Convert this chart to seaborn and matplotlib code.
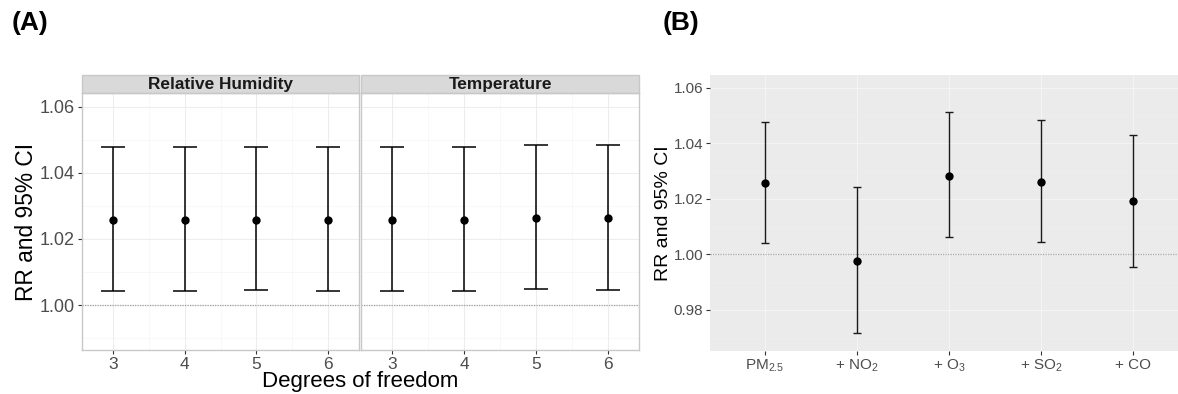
import numpy as np
import pandas as pd
import matplotlib
matplotlib.use("Agg")
import matplotlib.pyplot as plt
from matplotlib.patches import Rectangle
import seaborn as sns

# ---------------- data ----------------
df_values = [3, 4, 5, 6]
rh_rr = [1.0256, 1.0256, 1.0258, 1.0257]
rh_lo = [1.0042, 1.0042, 1.0044, 1.0043]
rh_hi = [1.0477, 1.0477, 1.0479, 1.0478]
temp_rr = [1.0257, 1.0257, 1.0263, 1.0262]
temp_lo = [1.0041, 1.0042, 1.0047, 1.0046]
temp_hi = [1.0478, 1.0478, 1.0484, 1.0483]
facet_titles = ["Relative Humidity", "Temperature"]

models = ["PM$_{2.5}$", "+ NO$_2$", "+ O$_3$", "+ SO$_2$", "+ CO"]
model_rr = [1.0256, 0.9976, 1.0284, 1.0261, 1.0191]
model_lo = [1.0041, 0.9718, 1.0061, 1.0044, 0.9955]
model_hi = [1.0477, 1.0241, 1.0512, 1.0484, 1.0431]

# ---------------- style ----------------
sns.set_theme(style="white")
plt.rcParams["font.family"] = ["Liberation Sans", "DejaVu Sans"]
plt.rcParams["mathtext.default"] = "regular"

W, H = 1178, 394
fig = plt.figure(figsize=(W / 100, H / 100), dpi=100)


def px_axes(x0, x1, y0, y1):
    return fig.add_axes([x0 / W, 1 - y1 / H, (x1 - x0) / W, (y1 - y0) / H])


tick_gray = "#4D4D4D"

# ---------------- panel A ----------------
facet_data = [
    pd.DataFrame({"df": df_values, "rr": rh_rr, "lo": rh_lo, "hi": rh_hi}),
    pd.DataFrame({"df": df_values, "rr": temp_rr, "lo": temp_lo, "hi": temp_hi}),
]
facet_px = [(82, 359), (361, 639)]
axesA = []
for i, (d, (x0, x1)) in enumerate(zip(facet_data, facet_px)):
    ax = px_axes(x0, x1, 93, 350)
    axesA.append(ax)
    ax.set_facecolor("white")
    ax.set_xlim(2.57, 6.43)
    ax.set_ylim(0.9864, 1.0641)
    ax.set_xticks(df_values)
    ax.set_xticks([3.5, 4.5, 5.5], minor=True)
    ax.set_yticks([1.00, 1.02, 1.04, 1.06])
    ax.set_yticks([0.99, 1.01, 1.03, 1.05], minor=True)
    ax.grid(which="major", color="#EDEDED", lw=0.8)
    ax.grid(which="minor", color="#F5F5F5", lw=0.5)
    ax.set_axisbelow(True)
    ax.axhline(1.0, color="#A0A0A0", ls=(0, (1, 1)), lw=0.9, zorder=1)
    ax.errorbar(d["df"], d["rr"],
                yerr=[d["rr"] - d["lo"], d["hi"] - d["rr"]],
                fmt="none", ecolor="black", elinewidth=1.1,
                capsize=8.3, capthick=1.1, zorder=2)
    sns.scatterplot(data=d, x="df", y="rr", ax=ax, color="black", s=36,
                    edgecolor="black", linewidth=0, zorder=3)
    for sp in ax.spines.values():
        sp.set_color("#C8C8C8")
        sp.set_linewidth(1.0)
    ax.tick_params(axis="y", which="major", labelsize=13.0,
                   labelcolor=tick_gray, color="#333333",
                   length=3, width=0.8, pad=2)
    ax.tick_params(axis="x", which="major", labelsize=12.5,
                   labelcolor=tick_gray, color="#333333",
                   length=3, width=0.8, pad=2)
    ax.tick_params(which="minor", length=0)
    ax.set_xlabel("")
    ax.set_ylabel("")
    if i == 0:
        ax.tick_params(left=True, bottom=True)
    else:
        ax.tick_params(left=False, labelleft=False, bottom=True)
    # strip
    strip_h = 18 / 257
    ax.add_patch(Rectangle((0, 1), 1, strip_h, transform=ax.transAxes,
                           facecolor="#D9D9D9", edgecolor="#C8C8C8",
                           lw=1.0, clip_on=False))
    ax.text(0.5, 1 + strip_h / 2, facet_titles[i], transform=ax.transAxes,
            ha="center", va="center", fontsize=12.4, fontweight="bold",
            color="#1A1A1A")

axesA[0].set_ylabel("RR and 95% CI", fontsize=16.4, color="black")
axesA[0].yaxis.set_label_coords((38 - 82) / 277, 0.5)
fig.text(360.5 / W, 1 - 382 / H, "Degrees of freedom", ha="center",
         va="center", fontsize=16, color="black")

# ---------------- panel B ----------------
dB = pd.DataFrame({"model": models, "rr": model_rr, "lo": model_lo, "hi": model_hi})
axB = px_axes(710, 1178, 75, 351)
axB.set_facecolor("#EBEBEB")
pos = np.arange(len(models))
axB.errorbar(pos, dB["rr"], yerr=[dB["rr"] - dB["lo"], dB["hi"] - dB["rr"]],
             fmt="none", ecolor="#1A1A1A", elinewidth=1.0,
             capsize=3.0, capthick=1.0, zorder=2)
sns.scatterplot(data=dB, x="model", y="rr", ax=axB, color="black", s=36,
                edgecolor="black", linewidth=0, zorder=3)
axB.set_xlim(-0.6, 4.49)
axB.set_ylim(0.9652, 1.0646)
axB.set_xticks(pos)
axB.set_xticklabels(models)
axB.set_yticks([0.98, 1.00, 1.02, 1.04, 1.06])
axB.set_yticks([0.97, 0.99, 1.01, 1.03, 1.05], minor=True)
axB.grid(which="major", color="#F4F4F4", lw=0.8)
axB.grid(which="minor", color="#EFEFEF", lw=0.5)
axB.set_axisbelow(True)
axB.axhline(1.0, color="#A8A8A8", ls=(0, (1, 1)), lw=0.9, zorder=1)
for sp in axB.spines.values():
    sp.set_visible(False)
axB.tick_params(axis="both", which="major", labelsize=11, labelcolor=tick_gray,
                color="#333333", length=3, width=0.8, pad=2,
                left=True, bottom=True)
axB.tick_params(which="minor", length=0)
axB.set_xlabel("")
axB.set_ylabel("RR and 95% CI", fontsize=14, color="black")
axB.yaxis.set_label_coords((672 - 710) / 468, 0.5)

# panel tags
fig.text(12 / W, 1 - 23 / H, "(A)", ha="left", va="center", fontsize=19,
         fontweight="bold", color="black")
fig.text(663 / W, 1 - 23 / H, "(B)", ha="left", va="center", fontsize=19,
         fontweight="bold", color="black")

fig.savefig("out.png", dpi=100)
